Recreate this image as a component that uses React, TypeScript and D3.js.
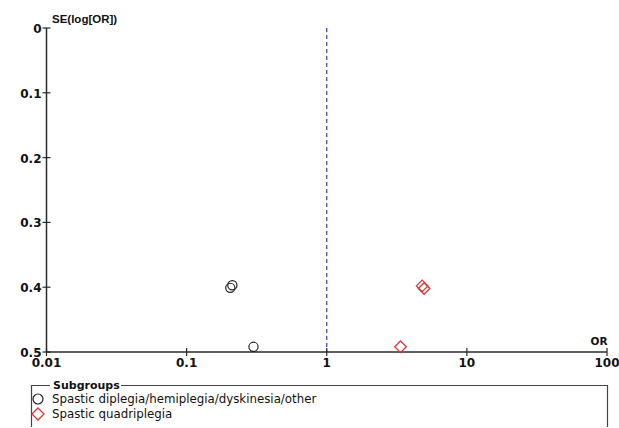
import React from "react";
import * as d3 from "d3";

// Funnel plot data: odds ratio vs standard error of log(OR)
const groupA_or = [0.205, 0.212, 0.3];
const groupA_se = [0.401, 0.397, 0.492];
const groupB_or = [4.8, 4.95, 3.36];
const groupB_se = [0.398, 0.402, 0.492];

const xTicks = [0.01, 0.1, 1, 10, 100];
const xTickLabels = ["0.01", "0.1", "1", "10", "100"];
const yTicks = [0, 0.1, 0.2, 0.3, 0.4, 0.5];
const yTickLabels = ["0", "0.1", "0.2", "0.3", "0.4", "0.5"];

const legendLabels = [
  "Spastic diplegia/hemiplegia/dyskinesia/other",
  "Spastic quadriplegia",
];

const W = 619;
const H = 428;

export default function App() {
  const x = d3.scaleLog().domain([0.01, 100]).range([46.5, 607]);
  const y = d3.scaleLinear().domain([0, 0.5]).range([28, 352]);
  const axisColor = "#2b2b2b";
  const red = "#dd3333";
  const tickFont = "'DejaVu Sans', sans-serif";

  const diamond = (cx: number, cy: number, r: number) =>
    `M${cx},${cy - r}L${cx + r},${cy}L${cx},${cy + r}L${cx - r},${cy}Z`;

  const ptsA = groupA_or.map((o, i) => ({ o, s: groupA_se[i] }));
  const ptsB = groupB_or.map((o, i) => ({ o, s: groupB_se[i] }));

  return (
    <svg
      width={W}
      height={H}
      style={{ position: "absolute", left: 0, top: 0, background: "#fff" }}
    >
      <rect x={0} y={0} width={W} height={H} fill="#fff" />

      {/* null line at OR = 1 */}
      <line
        x1={x(1)}
        x2={x(1)}
        y1={y(0)}
        y2={y(0.5)}
        stroke="#3b3bb0"
        strokeWidth={1.2}
        strokeDasharray="4,3"
      />

      {/* y axis */}
      <line x1={x(0.01)} x2={x(0.01)} y1={y(0)} y2={y(0.5)} stroke={axisColor} strokeWidth={1.5} />
      {yTicks.map((t, i) => (
        <g key={"y" + i}>
          <line x1={x(0.01) - 4} x2={x(0.01) + 4} y1={y(t)} y2={y(t)} stroke={axisColor} strokeWidth={1.2} />
          <text
            x={x(0.01) - 5}
            y={y(t) + 5}
            textAnchor="end"
            fontFamily={tickFont}
            fontWeight="bold"
            fontSize={12}
            fill="#111"
          >
            {yTickLabels[i]}
          </text>
        </g>
      ))}
      <text x={52} y={23} fontFamily="'Liberation Sans', Arial, sans-serif" fontWeight="bold" fontSize={11.5} fill="#111">
        SE(log[OR])
      </text>

      {/* x axis */}
      <line x1={x(0.01)} x2={x(100)} y1={y(0.5)} y2={y(0.5)} stroke={axisColor} strokeWidth={1.5} />
      {xTicks.map((t, i) => (
        <g key={"x" + i}>
          <line x1={x(t)} x2={x(t)} y1={y(0.5) - 4} y2={y(0.5) + 4} stroke={axisColor} strokeWidth={1.2} />
          <text
            x={x(t)}
            y={y(0.5) + 14.5}
            textAnchor="middle"
            fontFamily={tickFont}
            fontWeight="bold"
            fontSize={12}
            fill="#111"
          >
            {xTickLabels[i]}
          </text>
        </g>
      ))}
      <text x={599} y={345} textAnchor="middle" fontFamily={tickFont} fontWeight="bold" fontSize={10.5} fill="#111">
        OR
      </text>

      {/* points */}
      {ptsA.map((p, i) => (
        <circle key={"a" + i} cx={x(p.o)} cy={y(p.s)} r={4.6} fill="none" stroke="#222" strokeWidth={1.2} />
      ))}
      {ptsB.map((p, i) => (
        <path key={"b" + i} d={diamond(x(p.o), y(p.s), 5.8)} fill="none" stroke={red} strokeWidth={1.3} />
      ))}

      {/* legend */}
      <g>
        <path d="M50,385.5 L31.5,385.5 L31.5,427 M607.5,427 L607.5,385.5 L121,385.5" fill="none" stroke="#444" strokeWidth={1.2} />
        <text x={53} y={389} fontFamily={tickFont} fontWeight="bold" fontSize={11} fill="#111">
          Subgroups
        </text>
        <circle cx={38} cy={399} r={5} fill="none" stroke="#222" strokeWidth={1.2} />
        <text x={52} y={403} fontFamily={tickFont} fontSize={11.8} fill="#111">
          {legendLabels[0]}
        </text>
        <path d={diamond(38, 414, 6)} fill="none" stroke={red} strokeWidth={1.3} />
        <text x={52} y={418} fontFamily={tickFont} fontSize={11.8} fill="#111">
          {legendLabels[1]}
        </text>
      </g>
    </svg>
  );
}
